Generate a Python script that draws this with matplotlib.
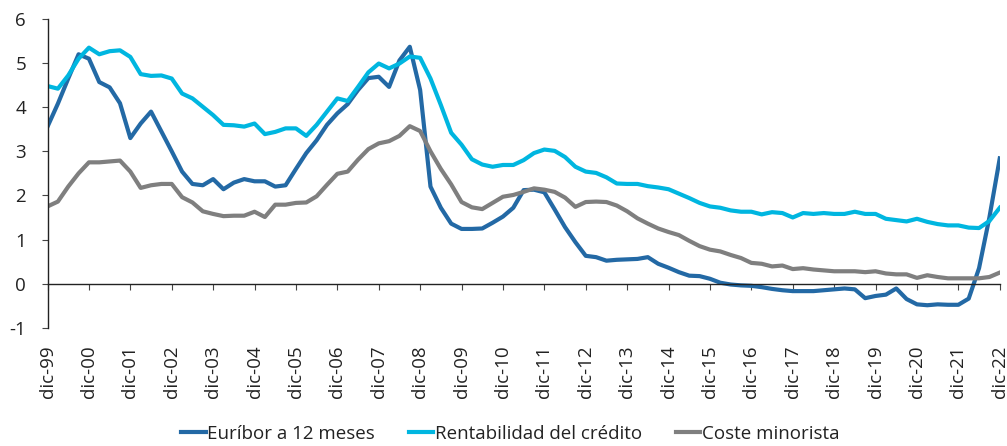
import matplotlib.pyplot as plt

# quarterly series, dic-99 .. dic-22
euribor = [3.56, 4.08, 4.65, 5.20, 5.10, 4.57, 4.45, 4.09, 3.30, 3.63, 3.90, 3.45,
           3.00, 2.54, 2.26, 2.23, 2.37, 2.14, 2.29, 2.37, 2.32, 2.32, 2.20, 2.23,
           2.60, 2.96, 3.25, 3.60, 3.86, 4.07, 4.39, 4.66, 4.69, 4.46, 5.06, 5.37,
           4.39, 2.20, 1.72, 1.36, 1.24, 1.24, 1.25, 1.38, 1.52, 1.72, 2.12, 2.13,
           2.07, 1.68, 1.28, 0.94, 0.63, 0.60, 0.52, 0.54, 0.55, 0.56, 0.60, 0.45,
           0.36, 0.26, 0.18, 0.17, 0.11, 0.02, -0.02, -0.04, -0.05, -0.08, -0.12, -0.15,
           -0.17, -0.17, -0.17, -0.15, -0.13, -0.11, -0.13, -0.33, -0.28, -0.25, -0.11, -0.35,
           -0.47, -0.49, -0.47, -0.48, -0.48, -0.34, 0.35, 1.50, 2.84]

rentabilidad = [4.48, 4.42, 4.72, 5.10, 5.35, 5.20, 5.27, 5.29, 5.14, 4.75, 4.71, 4.72,
                4.65, 4.31, 4.20, 4.01, 3.82, 3.60, 3.59, 3.56, 3.63, 3.39, 3.44, 3.52,
                3.52, 3.35, 3.60, 3.90, 4.20, 4.14, 4.46, 4.79, 4.99, 4.88, 4.99, 5.15,
                5.12, 4.65, 4.05, 3.42, 3.15, 2.82, 2.70, 2.65, 2.69, 2.69, 2.80, 2.96,
                3.04, 3.01, 2.87, 2.65, 2.54, 2.51, 2.41, 2.27, 2.26, 2.26, 2.21, 2.18,
                2.14, 2.04, 1.94, 1.83, 1.75, 1.72, 1.66, 1.63, 1.63, 1.57, 1.62, 1.60,
                1.50, 1.60, 1.58, 1.60, 1.58, 1.58, 1.63, 1.58, 1.58, 1.47, 1.44, 1.41,
                1.47, 1.40, 1.35, 1.32, 1.32, 1.27, 1.26, 1.42, 1.72]

coste = [1.75, 1.86, 2.20, 2.50, 2.75, 2.75, 2.77, 2.79, 2.54, 2.17, 2.23, 2.26,
         2.26, 1.96, 1.84, 1.64, 1.58, 1.53, 1.54, 1.54, 1.63, 1.51, 1.79, 1.79,
         1.83, 1.84, 1.98, 2.24, 2.49, 2.54, 2.81, 3.05, 3.18, 3.23, 3.35, 3.57,
         3.46, 3.00, 2.60, 2.25, 1.85, 1.73, 1.69, 1.83, 1.97, 2.01, 2.08, 2.16,
         2.13, 2.08, 1.95, 1.74, 1.85, 1.86, 1.85, 1.77, 1.64, 1.48, 1.36, 1.25,
         1.17, 1.10, 0.97, 0.85, 0.77, 0.73, 0.65, 0.58, 0.47, 0.45, 0.39, 0.41,
         0.33, 0.35, 0.32, 0.30, 0.28, 0.28, 0.28, 0.26, 0.28, 0.23, 0.21, 0.21,
         0.13, 0.19, 0.15, 0.12, 0.12, 0.12, 0.12, 0.15, 0.25]

year_labels = ['dic-99', 'dic-00', 'dic-01', 'dic-02', 'dic-03', 'dic-04', 'dic-05',
               'dic-06', 'dic-07', 'dic-08', 'dic-09', 'dic-10', 'dic-11', 'dic-12',
               'dic-13', 'dic-14', 'dic-15', 'dic-16', 'dic-17', 'dic-18', 'dic-19',
               'dic-20', 'dic-21', 'dic-22']

series_names = ['Euríbor a 12 meses', 'Rentabilidad del crédito', 'Coste minorista']

plt.rcParams['font.family'] = ['Open Sans', 'DejaVu Sans']
plt.rcParams['axes.unicode_minus'] = False

fig = plt.figure(figsize=(10.07, 4.46), dpi=100)
ax = fig.add_axes([0.0472, 0.2652, 0.9456, 0.6922])

x = list(range(len(euribor)))
ax.plot(x, euribor, color='#2369a5', lw=3, label=series_names[0], solid_joinstyle='round')
ax.plot(x, rentabilidad, color='#00b6e0', lw=3, label=series_names[1], solid_joinstyle='round')
ax.plot(x, coste, color='#7f7f7f', lw=3, label=series_names[2], solid_joinstyle='round')

ax.set_xlim(0, len(euribor) - 1)
ax.set_ylim(-1, 6)
ax.set_yticks(range(-1, 7))

ax.set_xticks(range(0, len(euribor), 4))
ax.set_xticklabels(year_labels)

# axis line at zero, labels pushed down below the plot
ax.spines['bottom'].set_position(('data', 0))
ax.spines['top'].set_visible(False)
ax.spines['right'].set_visible(False)
for s in ['bottom', 'left']:
    ax.spines[s].set_color('#222222')
    ax.spines[s].set_linewidth(1)

ax.tick_params(axis='x', direction='out', length=4.5, color='#444444', pad=40,
               labelsize=13.5, labelcolor='#222222', labelrotation=90)
ax.tick_params(axis='y', direction='out', length=4.5, color='#444444', pad=11,
               labelsize=13.5, labelcolor='#222222')

fig.legend(loc='center', bbox_to_anchor=(0.507, 0.027), ncol=3, frameon=False,
           fontsize=13.5, handlelength=1.3, handletextpad=0.1, columnspacing=1.8,
           labelcolor='#222222')

fig.savefig('out.png', dpi=100)
